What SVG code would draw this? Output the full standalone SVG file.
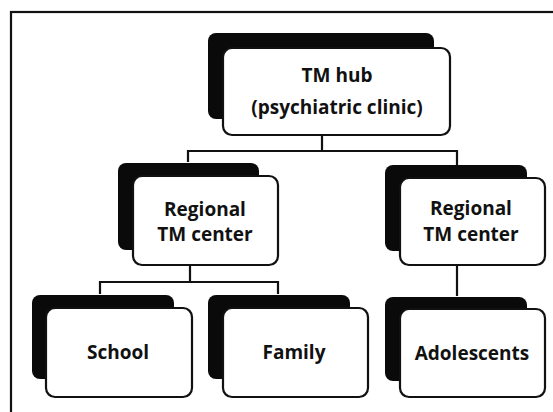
<svg xmlns="http://www.w3.org/2000/svg" width="553" height="412" viewBox="0 0 553 412">
<style>
.sh{fill:#0a0a0a;stroke:none}
.fr{fill:#fff;stroke:#111;stroke-width:2.2}
.t{font-family:"Open Sans","Liberation Sans",sans-serif;font-weight:700;font-size:19px;fill:#111;text-anchor:middle}
.c{fill:none;stroke:#111;stroke-width:2.2}
</style>
<rect width="553" height="412" fill="#fff"/>
<rect x="11" y="12" width="560" height="420" fill="none" stroke="#111" stroke-width="2.2"/>
<g id="connectors">
<path class="c" d="M322 135V151M188 162V151H457V165"/>
<path class="c" d="M190 265V282M100 294V282H278V294"/>
<path class="c" d="M457 265V296"/>
</g>
<g id="hub">
<rect class="sh" x="208" y="33" width="226" height="86" rx="8"/>
<rect class="fr" x="223" y="48" width="227" height="87" rx="9"/>
<text class="t" x="337" y="82">TM hub</text>
<text class="t" x="337" y="114">(psychiatric clinic)</text>
</g>
<g id="regional1">
<rect class="sh" x="118" y="163" width="141" height="87" rx="8"/>
<rect class="fr" x="133" y="176" width="145" height="89" rx="9"/>
<text class="t" x="205" y="216">Regional</text>
<text class="t" x="205" y="241">TM center</text>
</g>
<g id="regional2">
<rect class="sh" x="385" y="165" width="142" height="86" rx="8"/>
<rect class="fr" x="400" y="178" width="145" height="87" rx="9"/>
<text class="t" x="471" y="215">Regional</text>
<text class="t" x="471" y="241">TM center</text>
</g>
<g id="school">
<rect class="sh" x="32" y="295" width="142" height="84" rx="8"/>
<rect class="fr" x="46" y="308" width="146" height="89" rx="9"/>
<text class="t" x="118" y="359">School</text>
</g>
<g id="family">
<rect class="sh" x="208" y="295" width="142" height="84" rx="8"/>
<rect class="fr" x="223" y="308" width="145" height="89" rx="9"/>
<text class="t" x="294" y="359">Family</text>
</g>
<g id="adolescents">
<rect class="sh" x="385" y="297" width="142" height="84" rx="8"/>
<rect class="fr" x="400" y="309" width="145" height="88" rx="9"/>
<text class="t" x="472" y="360">Adolescents</text>
</g>
</svg>
